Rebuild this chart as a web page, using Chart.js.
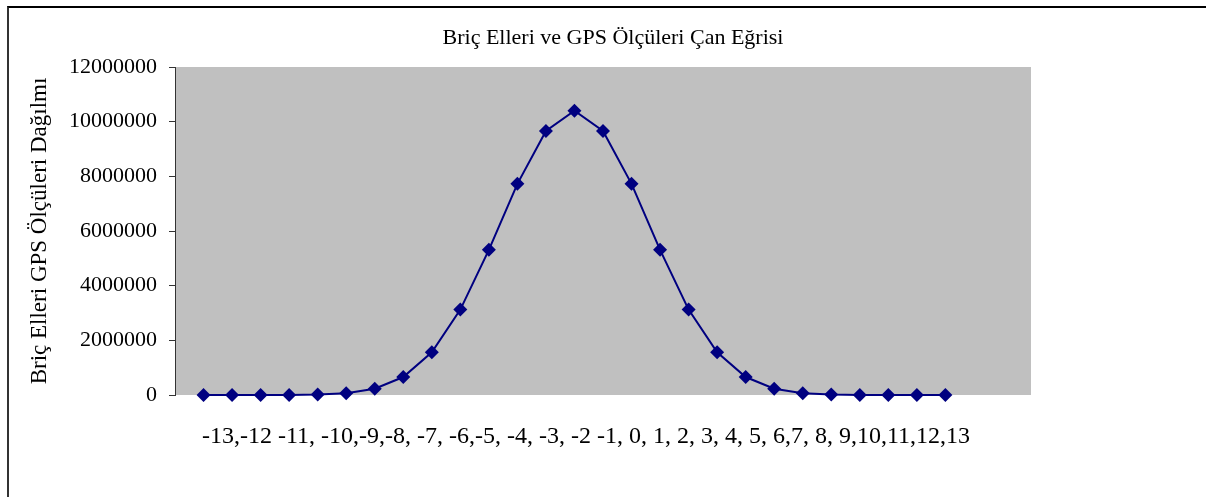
<!DOCTYPE html>
<html>
<head>
<meta charset="utf-8">
<script src="https://cdn.jsdelivr.net/npm/chart.js@4"></script>
<style>
  body { margin: 0; background: #fff; }
  #frame { position: absolute; left: 7px; top: 6px; width: 1199px; height: 491px;
           border-left: 2px solid #333; border-top: 2px solid #000; box-sizing: border-box; }
  #c { position: absolute; left: 0; top: 0; }
</style>
</head>
<body>
<div id="frame"></div>
<canvas id="c" width="1206" height="497"></canvas>
<script>
// categories -13..13 and how many hands fall in each
const categories = [-13,-12,-11,-10,-9,-8,-7,-6,-5,-4,-3,-2,-1,0,1,2,3,4,5,6,7,8,9,10,11,12,13]
const counts = [1,26,325,2600,14950,65780,230230,657800,1562275,3124550,5311735,7726160,9657700,10400600,
                9657700,7726160,5311735,3124550,1562275,657800,230230,65780,14950,2600,325,26,1]
const yTicks = [0,2000000,4000000,6000000,8000000,10000000,12000000]
const chartTitle = "Briç Elleri ve GPS Ölçüleri Çan Eğrisi"
const xAxisLabel = "-13,-12 -11, -10,-9,-8, -7, -6,-5, -4, -3, -2 -1, 0, 1, 2, 3, 4, 5, 6,7, 8, 9,10,11,12,13"
const yAxisLabel = "Briç Elleri GPS Ölçüleri Dağılmı"

const serif = "'Liberation Serif', 'Times New Roman', serif"

const grayArea = {
    id: "grayArea",
    beforeDraw(chart){
        const a = chart.chartArea
        const ctx = chart.ctx
        ctx.save()
        ctx.fillStyle = "#C0C0C0"
        ctx.fillRect(a.left, a.top, a.right - a.left, a.bottom - a.top)
        ctx.restore()
    }
}

// title and the category text line sit slightly off the plot centre in the original
const texts = {
    id: "texts",
    afterDraw(chart){
        const ctx = chart.ctx
        ctx.save()
        ctx.fillStyle = "#000"
        ctx.textAlign = "center"
        ctx.textBaseline = "middle"
        ctx.font = "22px " + serif
        ctx.fillText(chartTitle, 613, 38)
        ctx.font = "24px " + serif
        ctx.fillText(xAxisLabel, 586, 437)
        ctx.restore()
    }
}

const ctx = document.getElementById("c").getContext("2d")
new Chart(ctx, {
    type: "line",
    data: {
        datasets: [{
            data: categories.map((k, i) => ({x: k + 14, y: counts[i]})),
            borderColor: "#000080",
            backgroundColor: "#000080",
            borderWidth: 2,
            pointStyle: "rectRot",
            pointRadius: 7,
            pointBorderWidth: 0,
            tension: 0,
            clip: false
        }]
    },
    options: {
        responsive: false,
        animation: false,
        layout: { padding: { left: 0, right: 175, top: 67, bottom: 102 } },
        plugins: {
            legend: { display: false },
            tooltip: { enabled: false },
            title: { display: false }
        },
        scales: {
            x: {
                type: "linear",
                min: 0,
                max: 30,
                grid: { display: false },
                border: { display: false },
                ticks: { display: false },
                afterFit(axis){ axis.height = 0 }
            },
            y: {
                min: 0,
                max: 12000000,
                afterBuildTicks(axis){ axis.ticks = yTicks.map(v => ({value: v})) },
                afterFit(axis){ axis.width = 175 },
                grid: { drawOnChartArea: false, drawTicks: true, tickLength: 6, color: "#333" },
                border: { display: true, color: "#333", width: 1 },
                ticks: {
                    color: "#000",
                    font: { family: serif, size: 22 },
                    padding: 12,
                    callback: v => String(v)
                },
                title: {
                    display: true,
                    text: yAxisLabel,
                    color: "#000",
                    font: { family: serif, size: 23 },
                    padding: { top: 26, bottom: 0 }
                }
            }
        }
    },
    plugins: [grayArea, texts]
})
</script>
</body>
</html>
